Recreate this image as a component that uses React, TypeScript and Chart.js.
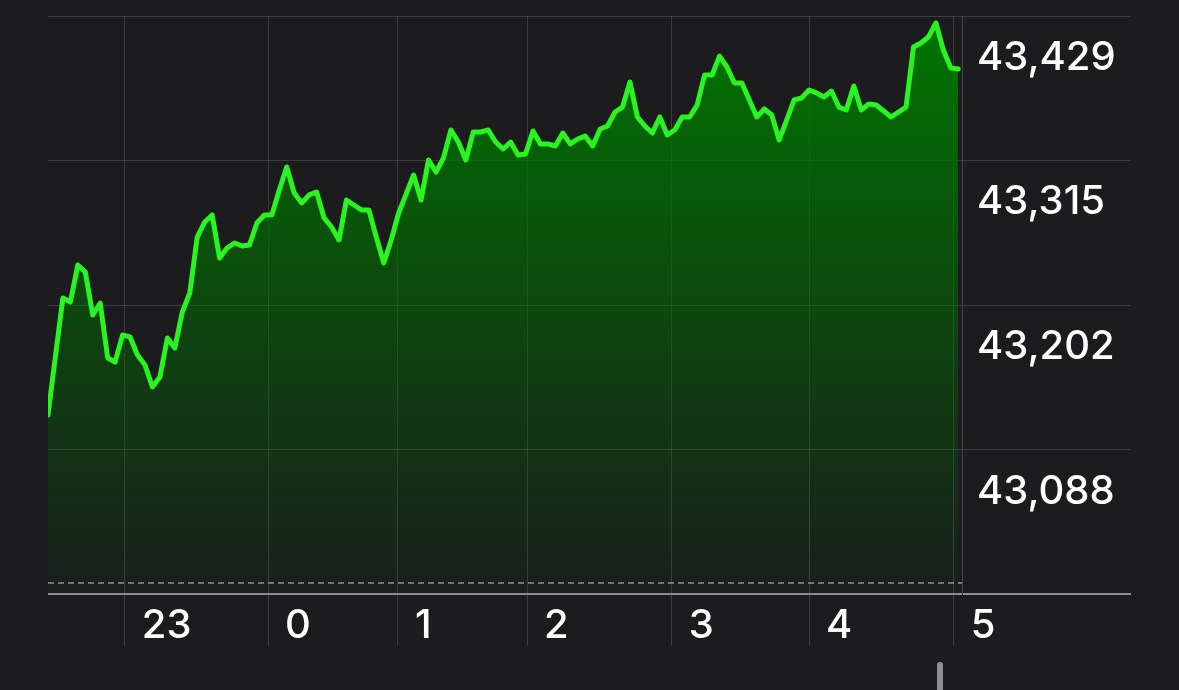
import React, { useEffect, useRef } from 'react';
import { Chart, registerables } from 'chart.js';

Chart.register(...registerables);

// Price series (one value per sample, left to right)
const prices: number[] = [
  43115.3, 43161.6, 43207.3, 43204.1, 43233.2, 43227.7, 43193.9, 43203.3, 43160.1, 43156.9,
  43178.2, 43176.6, 43162.4, 43154.6, 43137.3, 43145.1, 43175.8, 43167.9, 43196.2, 43211.2,
  43255.2, 43267.0, 43272.5, 43238.7, 43246.6, 43250.5, 43248.1, 43248.9, 43266.2, 43272.5,
  43272.5, 43292.2, 43310.3, 43289.8, 43282.0, 43288.3, 43290.6, 43270.2, 43263.1, 43252.9,
  43284.3, 43280.4, 43276.5, 43276.5, 43255.2, 43234.8, 43252.9, 43274.1, 43289.0, 43304.0,
  43284.3, 43315.8, 43306.3, 43317.3, 43339.4, 43329.9, 43315.8, 43337.8, 43337.8, 43339.4,
  43329.9, 43324.4, 43329.9, 43319.7, 43320.5, 43338.6, 43328.4, 43328.4, 43326.8, 43337.0,
  43328.4, 43332.3, 43334.6, 43326.8, 43340.1, 43342.5, 43353.5, 43357.4, 43377.1, 43349.6,
  43342.5, 43337.0, 43349.6, 43335.4, 43339.4, 43349.6, 43349.6, 43359.0, 43382.6, 43382.6,
  43397.5, 43388.9, 43376.3, 43376.3, 43363.0, 43349.6, 43355.9, 43351.2, 43331.5, 43347.2,
  43363.0, 43364.5, 43370.8, 43368.5, 43365.3, 43370.0, 43357.4, 43355.1, 43374.0, 43355.1,
  43359.8, 43359.0, 43354.3, 43349.6, 43353.5, 43357.4, 43404.6, 43407.8, 43412.5, 43423.5,
  43402.3, 43388.1, 43387.3,
];

// Hour ticks (position in sample index) and their labels
const hourTickIdx: number[] = [10.3, 29.5, 46.9, 64.2, 83.6, 102.0, 121.4];
const hourLabels: string[] = ['23', '0', '1', '2', '3', '4', '5'];
const xMax = 122.5;

// Price axis
const yMin = 42974.5;
const yMax = 43429;
const yTickValues: number[] = [42974.5, 43088.1, 43201.75, 43315.4, 43429];
const yTickLabels: string[] = ['', '43,088', '43,202', '43,315', '43,429'];

// Previous close reference (dashed)
const prevClose = 42983.2;

const BG = '#1c1c1f';
const GRID = 'rgba(255,255,255,0.14)';
const AXIS = '#8e8e93';
const LINE = '#2af41f';
const FONT = { family: 'Inter, "Noto Sans", sans-serif', size: 40, weight: '500' as const };

export default function App() {
  const canvasRef = useRef<HTMLCanvasElement | null>(null);

  useEffect(() => {
    document.body.style.margin = '0';
    document.body.style.background = BG;
    const canvas = canvasRef.current;
    if (!canvas) return;

    const chart = new Chart(canvas, {
      type: 'line',
      data: {
        datasets: [
          {
            data: prices.map((v, i) => ({ x: i, y: v })),
            borderColor: LINE,
            borderWidth: 5,
            borderJoinStyle: 'round',
            borderCapStyle: 'round',
            pointRadius: 0,
            tension: 0,
            fill: 'start',
            backgroundColor: (ctx: any) => {
              const c = ctx.chart;
              const area = c.chartArea;
              if (!area) return 'rgba(0,120,0,0.5)';
              const g = c.ctx.createLinearGradient(0, area.top, 0, area.bottom);
              g.addColorStop(0, 'rgba(0,125,0,0.95)');
              g.addColorStop(0.45, 'rgba(0,112,0,0.58)');
              g.addColorStop(1, 'rgba(0,100,0,0.05)');
              return g;
            },
            order: 1,
          },
          {
            data: [
              { x: 0, y: prevClose },
              { x: xMax, y: prevClose },
            ],
            borderColor: '#98989d',
            borderWidth: 1.5,
            borderDash: [6, 4],
            pointRadius: 0,
            fill: false,
            order: 2,
          },
        ],
      },
      options: {
        responsive: false,
        animation: false,
        events: [],
        layout: { padding: { left: 48, top: 16, right: 0, bottom: 0 } },
        plugins: { legend: { display: false }, tooltip: { enabled: false } },
        scales: {
          x: {
            type: 'linear',
            min: 0,
            max: xMax,
            afterBuildTicks: (scale: any) => {
              scale.ticks = hourTickIdx.map((v) => ({ value: v }));
            },
            afterFit: (scale: any) => {
              scale.height = 96;
            },
            border: { display: false },
            grid: { color: GRID, lineWidth: 1, tickLength: 52 },
            ticks: {
              autoSkip: false,
              maxRotation: 0,
              minRotation: 0,
              align: 'start',
              labelOffset: 17,
              padding: -44,
              color: '#ffffff',
              font: FONT,
              callback: (_v: any, i: number) => hourLabels[i],
            },
          },
          y: {
            type: 'linear',
            position: 'right',
            min: yMin,
            max: yMax,
            afterBuildTicks: (scale: any) => {
              scale.ticks = yTickValues.map((v) => ({ value: v }));
            },
            afterFit: (scale: any) => {
              scale.width = 217;
            },
            border: { display: true, color: 'rgba(255,255,255,0.18)', width: 1 },
            grid: {
              color: (ctx: any) => (ctx.tick && ctx.tick.value === yMin ? AXIS : GRID),
              lineWidth: (ctx: any) => (ctx.tick && ctx.tick.value === yMin ? 2 : 1),
              tickLength: 169,
            },
            ticks: {
              autoSkip: false,
              labelOffset: 42,
              padding: -154,
              color: '#ffffff',
              font: FONT,
              callback: (_v: any, i: number) => yTickLabels[i],
            },
          },
        },
      },
    });

    return () => chart.destroy();
  }, []);

  return (
    <div style={{ position: 'fixed', left: 0, top: 0, width: 1179, height: 690, background: BG, overflow: 'hidden' }}>
      <canvas ref={canvasRef} width={1179} height={690} style={{ display: 'block', width: 1179, height: 690 }} />
      <div
        style={{
          position: 'absolute',
          left: 937,
          top: 662,
          width: 6,
          height: 40,
          borderRadius: 3,
          background: '#8e8e96',
        }}
      />
    </div>
  );
}
